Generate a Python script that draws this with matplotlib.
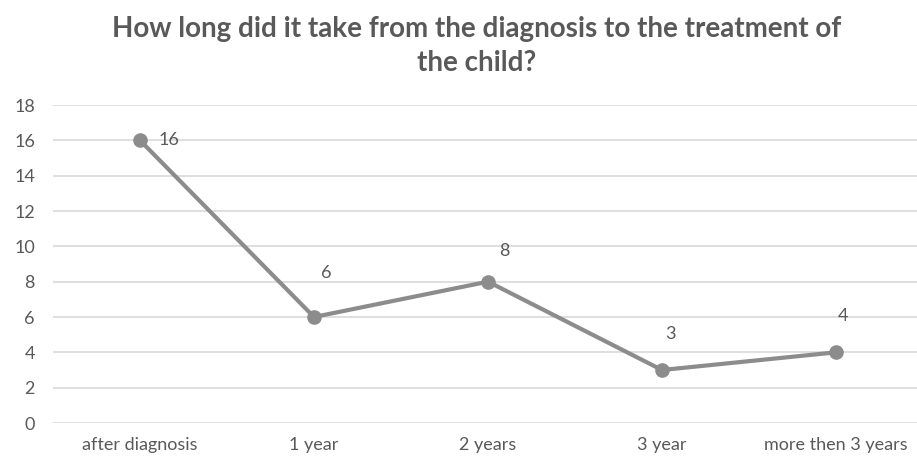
import matplotlib
matplotlib.use("Agg")
import matplotlib.pyplot as plt

categories = ["after diagnosis", "1 year", "2 years", "3 year", "more then 3 years"]
values = [16, 6, 8, 3, 4]
y_ticks = [0, 2, 4, 6, 8, 10, 12, 14, 16, 18]
title = "How long did it take from the diagnosis to the treatment of\nthe child?"

# label offsets in points (style only)
label_offsets = [(13, 0), (9, 32), (12, 22), (6, 26), (5, 26)]
label_ha = ["left", "center", "center", "center", "center"]

plt.rcParams['font.family'] = ['Lato', 'DejaVu Sans']
text_color = "#595959"
line_color = "#8c8c8c"

fig = plt.figure(figsize=(9.17, 4.65), dpi=100)
ax = fig.add_axes([53/917, 42/465, 870/917, 318/465])
x = list(range(len(categories)))
ax.plot(x, values, color=line_color, lw=3.0, marker="o", ms=9.5, solid_capstyle="round", zorder=3, clip_on=False)
for xi, v, off, ha in zip(x, values, label_offsets, label_ha):
    ax.annotate(str(v), (xi, v), xytext=off, textcoords="offset points",
                ha=ha, va="center", fontsize=13, color=text_color)

ax.set_xlim(-0.5, len(categories) - 0.5)
ax.set_ylim(0, 18)
ax.set_yticks(y_ticks)
ax.set_xticks(x)
ax.set_xticklabels(categories)
ax.tick_params(axis="both", length=0, labelsize=13, labelcolor=text_color)
ax.tick_params(axis="y", pad=13)
ax.tick_params(axis="x", pad=10)
ax.grid(axis="y", color="#d9d9d9", lw=1.2)
ax.set_axisbelow(True)
for s in ax.spines.values():
    s.set_visible(False)

fig.text(477/917, 1 - 16/465, title, ha="center", va="top", fontsize=20, fontweight="bold",
         color=text_color, linespacing=1.38)
fig.savefig("out.png", dpi=100)
